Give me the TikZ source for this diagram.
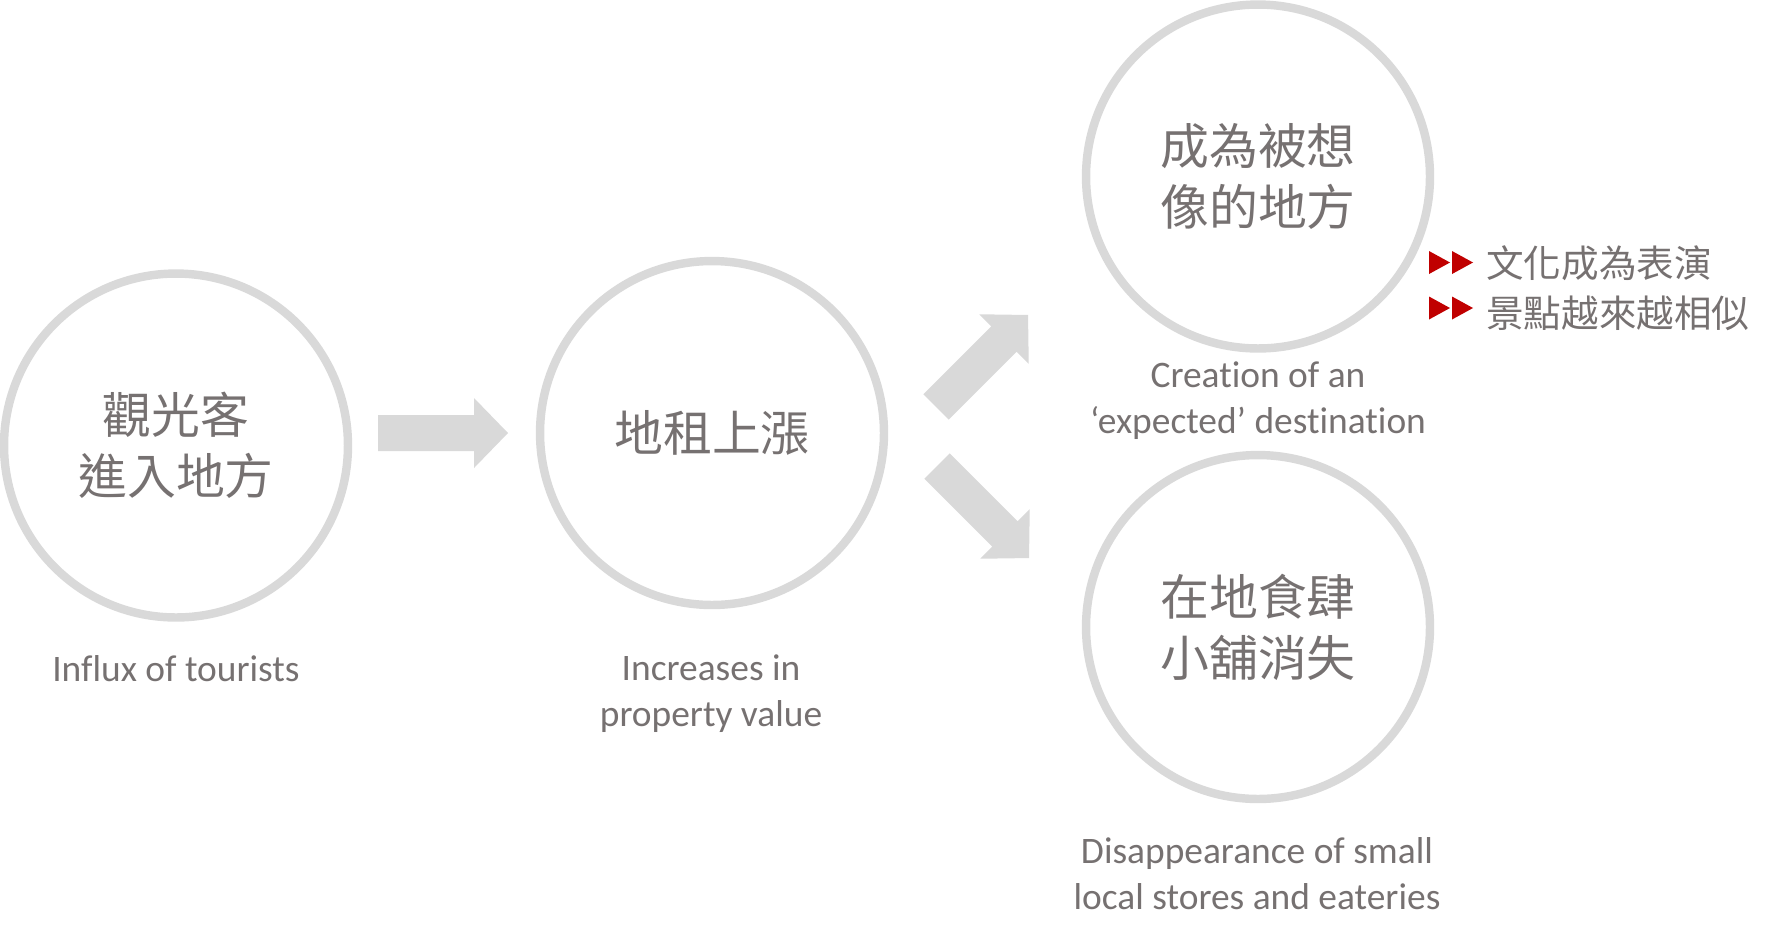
\documentclass[tikz,border=0pt]{standalone}
\usepackage{fontspec}
\setmainfont{Carlito}[Ligatures=NoCommon]
\newfontfamily\cjk{Noto Sans CJK TC}
\definecolor{ringgray}{HTML}{D9D9D9}
\definecolor{txtgray}{HTML}{767171}
\definecolor{arrgray}{HTML}{D9D9D9}
\definecolor{bulletred}{HTML}{C00000}
\newcommand\blockarrow[4]{%
  \begin{scope}[shift={(#1,#2)},rotate=#3]
    \fill[arrgray] (0,-18) -- (96,-18) -- (96,-35) -- (130,0) -- (96,35) -- (96,18) -- (0,18) -- cycle;
    \coordinate (#4) at (65,0);
  \end{scope}}
\newcommand\redtri[2]{\fill[bulletred] (#1,#2-11.5) -- (#1+21,#2) -- (#1,#2+11.5) -- cycle;}
\begin{document}
\begin{tikzpicture}[x=0.02cm,y=-0.02cm,
  ring/.style={circle, draw=ringgray, line width=4.8pt, minimum size=6.88cm, inner sep=0pt,
    align=center, text=txtgray, font=\cjk\fontsize{27.8}{34.6}\selectfont},
  caption/.style={align=center, text=txtgray, font=\fontsize{21.3}{26.3}\selectfont, inner sep=0pt},
  bullettext/.style={anchor=west, text=txtgray, font=\cjk\fontsize{21.4}{25}\selectfont, inner sep=0pt},
  ]
\useasboundingbox (0,0) rectangle (1773,941);

\node[ring] (c1) at (176,445.5) {觀光客\\進入地方};
\node[ring] (c2) at (712,433) {地租上漲};
\node[ring] (c3) at (1258,176.5) {成為被想\\像的地方};
\node[ring] (c4) at (1258,627) {在地食肆\\小舖消失};

\node[caption] (t1) at (176,669) {Influx of tourists};
\node[caption] (t2) at (711,694) {Increases in\\property value};
\node[caption] (t3) at (1258,401) {Creation of an\\‘expected’ destination};
\node[caption] (t4) at (1257,874) {Disappearance of small\\local stores and eateries};

\blockarrow{378}{433}{0}{a1}
\blockarrow{936.1}{406.9}{45}{a2}
\blockarrow{937.1}{466.1}{-45}{a3}

\redtri{1429}{262.5}
\redtri{1452}{262.5}
\redtri{1429}{308}
\redtri{1452}{308}
\node[bullettext] (b1) at (1486,263.5) {文化成為表演};
\node[bullettext] (b2) at (1486,313.5) {景點越來越相似};
\end{tikzpicture}
\end{document}
